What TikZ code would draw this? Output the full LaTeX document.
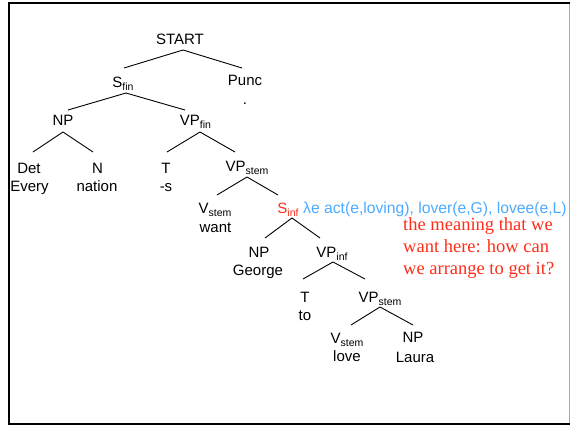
\documentclass[tikz,border=0pt]{standalone}
\usepackage{fontspec}
\setmainfont{Liberation Sans}
\newfontfamily\notefont{Liberation Serif}
\definecolor{semblue}{RGB}{77,170,255}
\definecolor{notered}{RGB}{255,45,25}
\definecolor{framegray}{RGB}{170,170,170}

% lowered category subscript (fin, stem, inf)
\newcommand\catsub[1]{\raisebox{-3pt}{\fontsize{10.5}{10.5}\selectfont #1}}
% tree branch between two labels, each end given as an offset from the label's baseline
\newcommand\branch[4]{\draw[branchline] ([shift={#2}]#1.base) -- ([shift={#4}]#3.base);}

\begin{document}
\begin{tikzpicture}[x=1pt,y=-1pt,
  cat/.style={inner sep=0pt, anchor=base, font=\fontsize{15}{18}\selectfont},
  word/.style={inner sep=0pt, anchor=base, font=\fontsize{15}{18}\selectfont},
  branchline/.style={line width=0.9pt, black},
]
\useasboundingbox (0,0) rectangle (571,426);

% slide frame
\draw[framegray, line width=1pt] (569.5,3) -- (569.5,424);
\draw[line width=2pt] (570,3) -- (9,3) -- (9,424) -- (570,424);

% categories
\node[cat] (start)   at (180,44)  {START};
\node[cat] (punc)    at (245,85)  {Punc};
\node[cat] (sfin)    at (123,87)  {S\catsub{fin}};
\node[cat] (np1)     at (63,125)  {NP};
\node[cat] (vpfin)   at (195.5,125) {VP\catsub{fin}};
\node[cat] (det)     at (29,173)  {Det};
\node[cat] (n)       at (97.5,173) {N};
\node[cat] (t1)      at (166,173) {T};
\node[cat] (vpstem1) at (247,171) {VP\catsub{stem}};
\node[cat] (vstem1)  at (215,213) {V\catsub{stem}};
\node[cat, text=notered] (sinf) at (288,213) {S\catsub{inf}};
\node[cat] (np2)     at (259,257) {NP};
\node[cat] (vpinf)   at (332,257) {VP\catsub{inf}};
\node[cat] (t2)      at (305,302) {T};
\node[cat] (vpstem2) at (380,302) {VP\catsub{stem}};
\node[cat] (vstem2)  at (347,343) {V\catsub{stem}};
\node[cat] (np3)     at (413,342) {NP};

% words
\node[word] (period) at (245,104) {.};
\node[word] (every)  at (29.5,191) {Every};
\node[word] (nation) at (97,191)  {nation};
\node[word] (suffs)  at (166,191) {-s};
\node[word] (want)   at (215.5,232) {want};
\node[word] (george) at (258,275) {George};
\node[word] (to)     at (305,320) {to};
\node[word] (love)   at (347,361) {love};
\node[word] (laura)  at (415,362) {Laura};

% semantics and comment (the comment's base is its last line)
\node[anchor=base west, inner sep=0pt, text=semblue, font=\fontsize{15.7}{18}\selectfont]
  (sem) at (303,213) {λe act(e,loving), lover(e,G), lovee(e,L)};
\node[anchor=base west, inner sep=0pt, align=left, text=notered,
  font=\notefont\fontsize{18.5}{22}\selectfont]
  (note) at (403,274) {the meaning that we\\want here: how can\\we arrange to get it?};

% branches
\branch{start}{(3,6)}{sfin}{(1,-19)}
\branch{start}{(3,6)}{punc}{(-3,-17)}
\branch{sfin}{(3,6)}{np1}{(5,-15)}
\branch{sfin}{(3,6)}{vpfin}{(-10.5,-15)}
\branch{np1}{(0,7)}{det}{(4,-21)}
\branch{np1}{(0,7)}{n}{(-4.5,-21)}
\branch{vpfin}{(4.5,7)}{t1}{(1,-21)}
\branch{vpfin}{(4.5,7)}{vpstem1}{(-12,-19)}
\branch{vpstem1}{(0,6)}{vstem1}{(2,-18)}
\branch{vpstem1}{(0,6)}{sinf}{(-10,-18)}
\branch{sinf}{(4,5)}{np2}{(6,-19)}
\branch{sinf}{(4,5)}{vpinf}{(-12,-19)}
\branch{vpinf}{(1,5)}{t2}{(-2,-23)}
\branch{vpinf}{(1,5)}{vpstem2}{(-15,-23)}
\branch{vpstem2}{(0,5)}{vstem2}{(4,-18)}
\branch{vpstem2}{(0,5)}{np3}{(0,-17)}
\end{tikzpicture}
\end{document}
